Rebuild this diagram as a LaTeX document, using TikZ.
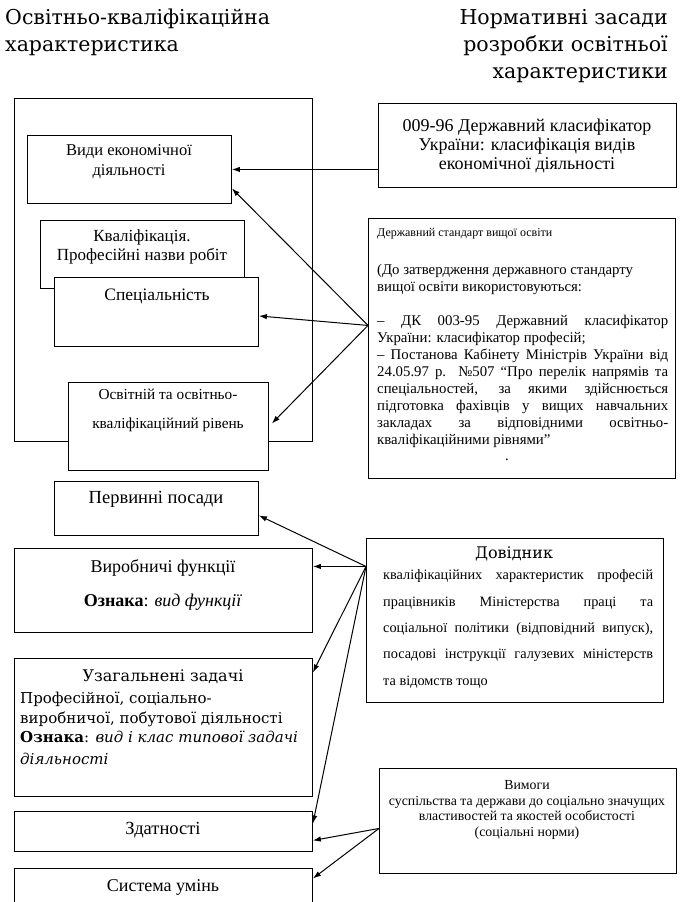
\documentclass[tikz,border=0pt]{standalone}
\usepackage{fontspec}
\setmainfont{Liberation Serif}
\newfontfamily\cent{DejaVu Serif}
\usetikzlibrary{arrows.meta}
\begin{document}
\begin{tikzpicture}[x=1pt,y=-1pt,
  box/.style={draw,line width=0.9pt,inner sep=0pt,anchor=north west,fill=white},
  arr/.style={-{Latex[length=8pt,width=5.5pt]},line width=1pt},
  txt/.style={inner sep=0pt,align=center},
  ln/.style={inner sep=0pt,anchor=base west},
  hd/.style={font=\cent\fontsize{20.5}{20.5}\selectfont}
]
\useasboundingbox (0,0) rectangle (682,902);
% headers
\node[ln,hd] (h1) at (5,24) {Освітньо-кваліфікаційна};
\node[ln,hd] (h2) at (5,51) {характеристика};
\node[inner sep=0pt,anchor=base east,hd] (h3) at (668,24) {Нормативні засади};
\node[inner sep=0pt,anchor=base east,hd] (h4) at (668,51) {розробки освітньої};
\node[inner sep=0pt,anchor=base east,hd] (h5) at (668,78) {характеристики};

% left boxes
\node[box,minimum width=298pt,minimum height=343pt] (frame) at (14,98) {};
\node[box,minimum width=204pt,minimum height=68pt] (vydy) at (27,135) {};
\node[txt,font=\fontsize{16.5}{20}\selectfont] (vydyt) at (129,162) {Види економічної\\діяльності};
\node[box,minimum width=204pt,minimum height=68pt] (kval) at (40,220) {};
\node[txt,font=\fontsize{17}{19}\selectfont] (kvalt) at (142,247) {Кваліфікація.\\Професійні назви робіт};
\node[box,minimum width=204pt,minimum height=69pt] (spec) at (54,277) {};
\node[txt,font=\fontsize{17.5}{20}\selectfont] (spect) at (157,296) {Спеціальність};
\node[box,minimum width=200pt,minimum height=88pt] (osv) at (68,382) {};
\node[txt,font=\fontsize{15.3}{29}\selectfont] (osvt) at (168,410) {Освітній та освітньо-\\кваліфікаційний рівень};
\node[box,minimum width=204pt,minimum height=54pt] (perv) at (54,481) {};
\node[txt,font=\fontsize{18.5}{20}\selectfont] (pervt) at (156,499) {Первинні посади};
\node[box,minimum width=298pt,minimum height=84pt] (vyrob) at (14,548) {};
\node[txt,font=\fontsize{18}{20}\selectfont] (vyrobt1) at (163,568) {Виробничі функції};
\node[txt,font=\fontsize{18}{20}\selectfont] (vyrobt2) at (163,602) {\textbf{Ознака}: \textit{вид функції}};
\node[box,minimum width=298pt,minimum height=138pt] (uzag) at (14,658) {};
\node[txt,font=\cent\fontsize{16}{16}\selectfont] (uzagt1) at (163,677) {Узагальнені задачі};
\node[ln,font=\cent\fontsize{15}{15}\selectfont] (uzagt2) at (20,703) {Професійної, соціально-};
\node[ln,font=\cent\fontsize{15}{15}\selectfont] (uzagt3) at (20,723) {виробничої, побутової діяльності};
\node[ln,font=\cent\fontsize{15}{15}\selectfont] (uzagt4) at (20,742) {\textbf{Ознака}: \textit{вид і клас типової задачі}};
\node[ln,font=\cent\fontsize{15}{15}\selectfont] (uzagt5) at (20,764) {\textit{діяльності}};
\node[box,minimum width=298pt,minimum height=40pt] (zdat) at (14,811) {};
\node[txt,font=\fontsize{18.5}{20}\selectfont] (zdatt) at (163,830) {Здатності};
\node[box,minimum width=298pt,minimum height=40pt] (sys) at (14,868) {};
\node[txt,font=\fontsize{18}{20}\selectfont] (syst) at (163,887) {Система умінь};

% right boxes
\node[box,minimum width=298pt,minimum height=84pt] (dk) at (378,103) {};
\node[txt,font=\fontsize{18}{19}\selectfont] (dkt) at (527,146) {009-96 Державний класифікатор\\України: класифікація видів\\економічної діяльності};

\node[box,minimum width=307pt,minimum height=260pt] (std) at (368,218) {};
\node[ln,font=\fontsize{12}{12}\selectfont] (s1) at (377,236) {Державний стандарт вищої освіти};
\begin{scope}[font=\fontsize{14.8}{14.8}\selectfont]
\node[ln] (s2) at (377,274) {(До затвердження державного стандарту};
\node[ln] (s3) at (377,291) {вищої освіти використовуються:};
\node[ln] (s4) at (377,325) {\makebox[291pt][s]{– ДК 003-95 Державний класифікатор}};
\node[ln] (s5) at (377,342) {України: класифікатор професій;};
\node[ln] (s6) at (377,359) {\makebox[291pt][s]{– Постанова Кабінету Міністрів України від}};
\node[ln] (s7) at (377,376) {\makebox[291pt][s]{24.05.97 р. №507 “Про перелік напрямів та}};
\node[ln] (s8) at (377,393) {\makebox[291pt][s]{спеціальностей, за якими здійснюється}};
\node[ln] (s9) at (377,410) {\makebox[291pt][s]{підготовка фахівців у вищих навчальних}};
\node[ln] (s10) at (377,427) {\makebox[291pt][s]{закладах за відповідними освітньо-}};
\node[ln] (s11) at (377,444) {кваліфікаційними рівнями”};
\node[txt] (s12) at (507,460) {.};
\end{scope}

\node[box,minimum width=297pt,minimum height=164pt] (dov) at (366,538) {};
\node[txt,font=\cent\fontsize{16}{16}\selectfont] (d1) at (514,554) {Довідник};
\begin{scope}[font=\fontsize{14.3}{14.3}\selectfont]
\node[ln] (d2) at (383,579) {\makebox[270pt][s]{кваліфікаційних характеристик професій}};
\node[ln] (d3) at (383,606) {\makebox[270pt][s]{працівників Міністерства праці та}};
\node[ln] (d4) at (383,632) {\makebox[270pt][s]{соціальної політики (відповідний випуск),}};
\node[ln] (d5) at (383,658) {\makebox[270pt][s]{посадові інструкції галузевих міністерств}};
\node[ln] (d6) at (383,685) {та відомств тощо};
\end{scope}

\node[box,minimum width=297pt,minimum height=105pt] (vym) at (379,768) {};
\node[txt,font=\fontsize{13.8}{15.5}\selectfont] (vymt) at (527,810) {Вимоги\\суспільства та держави до соціально значущих\\властивостей та якостей особистості\\(соціальні норми)};

% connectors
\coordinate (S) at ([yshift=23pt]std.west);
\coordinate (D) at ([yshift=54pt]dov.west);
\coordinate (V) at ([yshift=-7.5pt]vym.west);
\draw[arr] (dk.west |- vydy.east) -- (vydy.east);
\draw[arr] (S) -- ([yshift=-19pt]vydy.east);
\draw[arr] (S) -- ([yshift=-4pt]spec.east);
\draw[arr] (S) -- ([xshift=3pt,yshift=3pt]osv.east);
\draw[arr] (D) -- ([yshift=-7pt]perv.east);
\draw[arr] (D) -- ([yshift=24pt]vyrob.east);
\draw[arr] (D) -- ([yshift=55pt]uzag.east);
\draw[arr] (D) -- ([yshift=8pt]zdat.east);
\draw[arr] (V) -- ([yshift=-9pt]zdat.east);
\draw[arr] (V) -- ([yshift=10pt]sys.east);
\end{tikzpicture}
\end{document}
